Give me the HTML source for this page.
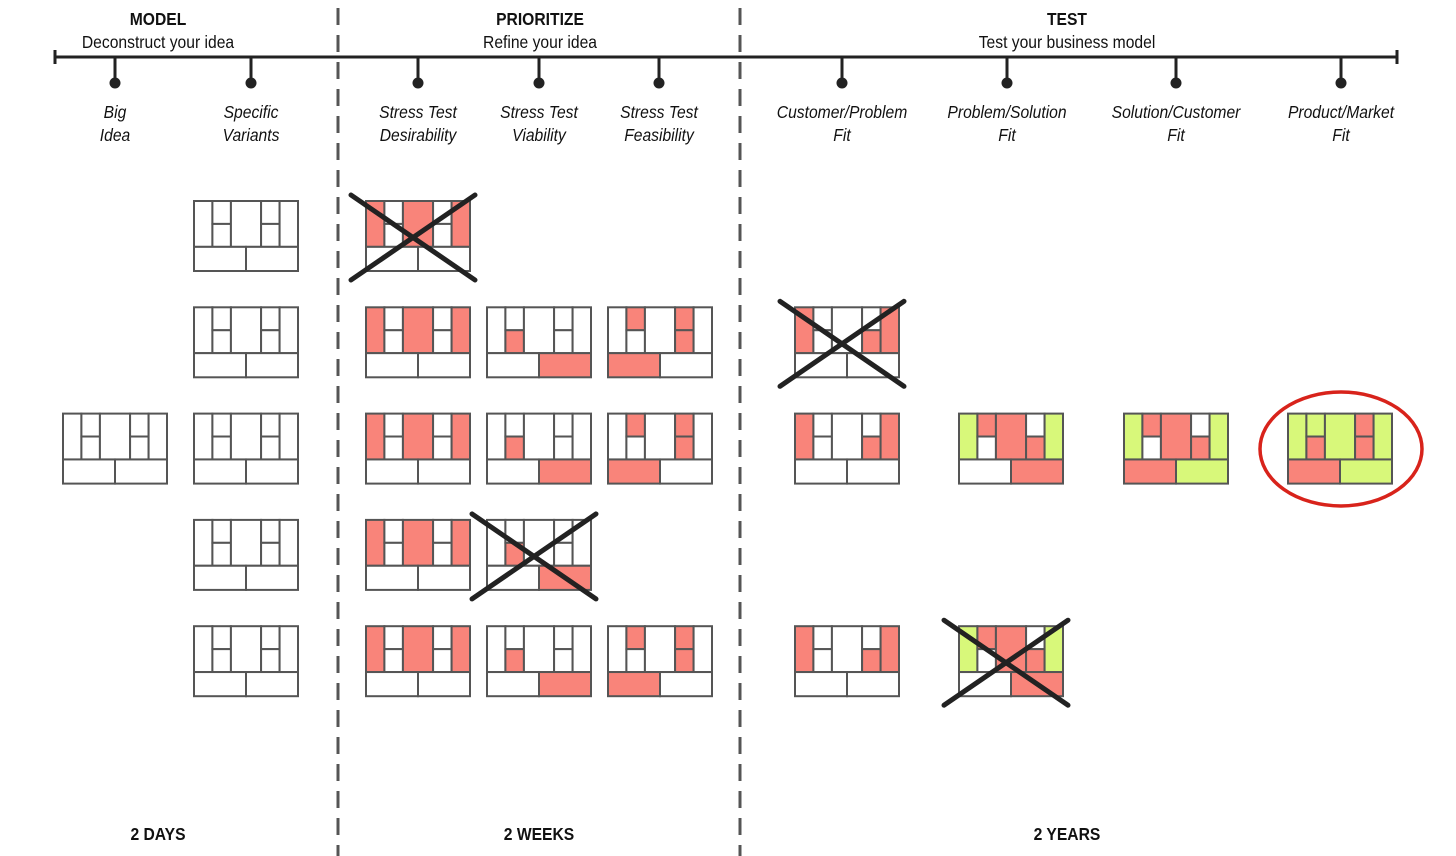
<!DOCTYPE html>
<html><head><meta charset="utf-8">
<style>
html,body{margin:0;padding:0;background:#fff;}
svg{display:block;}
text{font-family:"Liberation Sans Narrow","Liberation Sans",sans-serif;fill:#111;}
</style></head>
<body>
<svg id="chart" width="1456" height="856" viewBox="0 0 1456 856" xmlns="http://www.w3.org/2000/svg">
  <g>
    <text transform="translate(158,25) scale(0.87,1)" text-anchor="middle" font-size="18" font-weight="bold">MODEL</text>
    <text transform="translate(158,48) scale(0.87,1)" text-anchor="middle" font-size="18">Deconstruct your idea</text>
    <text transform="translate(540,25) scale(0.87,1)" text-anchor="middle" font-size="18" font-weight="bold">PRIORITIZE</text>
    <text transform="translate(540,48) scale(0.87,1)" text-anchor="middle" font-size="18">Refine your idea</text>
    <text transform="translate(1067,25) scale(0.87,1)" text-anchor="middle" font-size="18" font-weight="bold">TEST</text>
    <text transform="translate(1067,48) scale(0.87,1)" text-anchor="middle" font-size="18">Test your business model</text>
  </g>
  <g>
    <text transform="translate(158,840) scale(0.87,1)" text-anchor="middle" font-size="18" font-weight="bold">2 DAYS</text>
    <text transform="translate(539,840) scale(0.87,1)" text-anchor="middle" font-size="18" font-weight="bold">2 WEEKS</text>
    <text transform="translate(1067,840) scale(0.87,1)" text-anchor="middle" font-size="18" font-weight="bold">2 YEARS</text>
  </g>
  <g>
    <line x1="338" y1="8" x2="338" y2="856" stroke="#555" stroke-width="3" stroke-dasharray="17,10"/>
    <line x1="740" y1="8" x2="740" y2="856" stroke="#555" stroke-width="3" stroke-dasharray="17,10"/>
  </g>
  <g>
    <line x1="55" y1="57" x2="1397" y2="57" stroke="#222" stroke-width="3"/>
    <line x1="55" y1="50" x2="55" y2="64" stroke="#222" stroke-width="3"/>
    <line x1="1397" y1="50" x2="1397" y2="64" stroke="#222" stroke-width="3"/>
  </g>
  <g id="stages"></g>
  <g id="canvases"></g>
  <ellipse cx="1341" cy="449" rx="81" ry="57" fill="none" stroke="#d8231b" stroke-width="3.5"/>
</svg>
<script>
const stageNames = [["Big","Idea"],["Specific","Variants"],["Stress Test","Desirability"],["Stress Test","Viability"],["Stress Test","Feasibility"],["Customer/Problem","Fit"],["Problem/Solution","Fit"],["Solution/Customer","Fit"],["Product/Market","Fit"]];
const stageX = [115,251,418,539,659,842,1007,1176,1341];
const canvasColLeft = [63,194,366,487,608,795,959,1124,1288];
// cell order: partners, activities, resources, value, relationships, channels, segments, cost, revenue
const patterns = {
  blank:"wwwwwwwww", des:"rwwrwwrww", via:"wwrwwwwwr", fea:"wrwwrrwrw",
  cp:"rwwwwrrww", ps:"grwrwrgwr", sc:"grwrwrgrg", pm:"ggrgrrgrg"
};
const canvasStage = [0,1,1,1,1,1,2,2,2,2,2,3,3,3,3,4,4,4,5,5,5,6,6,7,8];
const canvasRow   = [2,0,1,2,3,4,0,1,2,3,4,1,2,3,4,1,2,4,1,2,4,2,4,2,2];
const canvasPat   = ["blank","blank","blank","blank","blank","blank","des","des","des","des","des","via","via","via","via","fea","fea","fea","cp","cp","cp","ps","ps","sc","pm"];
const canvasCross = [0,0,0,0,0,0,1,0,0,0,0,0,0,1,0,0,0,0,1,0,0,0,1,0,0];

const NS="http://www.w3.org/2000/svg";
const W=104,H=70;
function rowY(r){return 201+r*106.3;}
function colX(s){return canvasColLeft[s];}
const colors={w:"#ffffff",r:"#f9847a",g:"#d8f87a"};
function mk(tag,attrs,parent){const e=document.createElementNS(NS,tag);for(const k in attrs)e.setAttribute(k,attrs[k]);parent.appendChild(e);return e;}

const sg=document.getElementById("stages");
stageX.forEach((x,i)=>{
  const g=mk("g",{},sg);
  
  
  mk("line",{x1:x,y1:57,x2:x,y2:80,stroke:"#222","stroke-width":3},g);
  mk("circle",{cx:x,cy:83,r:5.5,fill:"#222"},g);
  stageNames[i].forEach((t,j)=>{
    const tx=mk("text",{transform:"translate("+x+","+(118+j*23)+") scale(0.87,1)","text-anchor":"middle","font-size":18,"font-style":"italic"},g);
    
    
    tx.textContent=t;
  });
});

const cg=document.getElementById("canvases");
canvasStage.forEach((s,i)=>{
  const x=colX(s), y=rowY(canvasRow[i]);
  const p=patterns[canvasPat[i]];
  const g=mk("g",{},cg);
  
  
  const th=H*0.655, c=[0,0.177,0.355,0.645,0.823,1].map(f=>x+f*W);
  const cells=[
    [c[0],y,c[1]-c[0],th],[c[1],y,c[2]-c[1],th/2],[c[1],y+th/2,c[2]-c[1],th/2],
    [c[2],y,c[3]-c[2],th],[c[3],y,c[4]-c[3],th/2],[c[3],y+th/2,c[4]-c[3],th/2],
    [c[4],y,c[5]-c[4],th],[x,y+th,W/2,H-th],[x+W/2,y+th,W/2,H-th]];
  cells.forEach((r,k)=>{
    mk("rect",{x:r[0],y:r[1],width:r[2],height:r[3],fill:colors[p[k]],stroke:"#555","stroke-width":2},g);
  });
  if(canvasCross[i]){
    const x1=mk("line",{x1:x-15,y1:y-6,x2:x+W+5,y2:y+H+9,stroke:"#222","stroke-width":5,"stroke-linecap":"round"},g);
    
    
    const x2=mk("line",{x1:x-15,y1:y+H+9,x2:x+W+5,y2:y-6,stroke:"#222","stroke-width":5,"stroke-linecap":"round"},g);
    
    
  }
});
</script>
</body></html>
